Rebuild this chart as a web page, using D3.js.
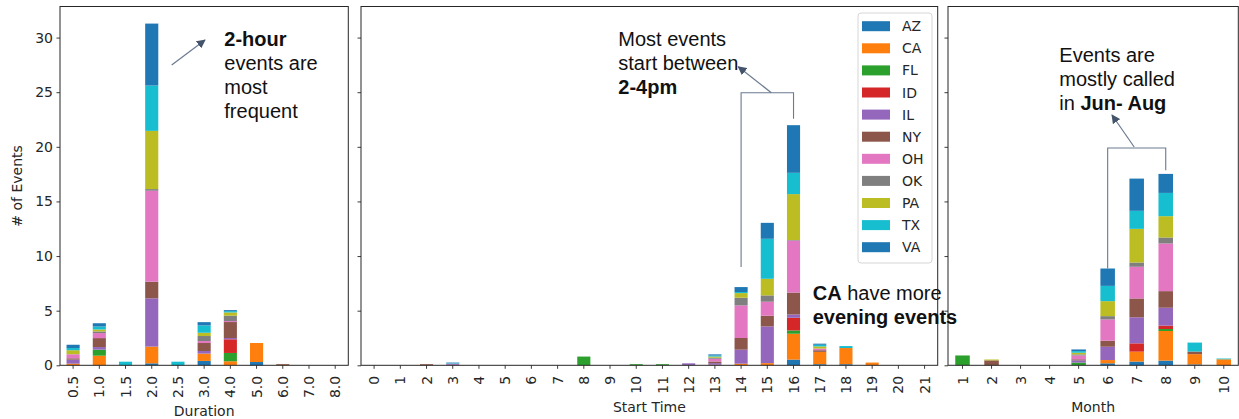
<!DOCTYPE html>
<html><head><meta charset="utf-8">
<script src="https://cdn.jsdelivr.net/npm/d3@7"></script>
<style>body{margin:0;background:#fff} svg{display:block}</style>
</head><body><svg id="c" width="1239" height="419"></svg>
<script>
// ---------- data ----------
const states = ["AZ","CA","FL","ID","IL","NY","OH","OK","PA","TX","VA"];
const stateColors = ["#1f77b4","#ff7f0e","#2ca02c","#d62728","#9467bd","#8c564b","#e377c2","#7f7f7f","#bcbd22","#17becf","#1f77b4"];
const yTicks = [0,5,10,15,20,25,30];

const durationCats = ["0.5","1.0","1.5","2.0","2.5","3.0","4.0","5.0","6.0","7.0","8.0"];
const durAZ = [0,    0,    0,    0.18, 0,    0.40, 0,    0.30, 0,    0, 0];
const durCA = [0.15, 0.88, 0,    1.53, 0,    0.67, 0.37, 1.74, 0.05, 0, 0];
const durFL = [0,    0.55, 0,    0,    0,    0,    0.76, 0,    0,    0, 0];
const durID = [0,    0,    0,    0,    0,    0,    1.25, 0,    0,    0, 0];
const durIL = [0.37, 0.24, 0,    4.42, 0,    0.24, 0.12, 0,    0,    0, 0];
const durNY = [0.12, 0.82, 0,    1.52, 0,    0.73, 1.46, 0,    0.07, 0, 0];
const durOH = [0.37, 0.46, 0,    8.33, 0,    0.18, 0.09, 0,    0,    0, 0];
const durOK = [0,    0.15, 0,    0.15, 0,    0.46, 0.49, 0,    0,    0, 0];
const durPA = [0.37, 0.18, 0,    5.33, 0,    0.30, 0.30, 0,    0,    0, 0];
const durTX = [0.20, 0.27, 0.33, 4.15, 0.33, 0.67, 0.12, 0,    0,    0, 0];
const durVA = [0.30, 0.30, 0,    5.67, 0,    0.30, 0.09, 0,    0,    0, 0];

const startCats = ["0","1","2","3","4","5","6","7","8","9","10","11","12","13","14","15","16","17","18","19","20","21"];
//             0 1 2    3    4 5 6 7 8    9 10   11   12   13   14   15   16   17   18   19   20 21
const stAZ = [0,0,0,   0,   0,0,0,0,0,   0,0,   0,   0,   0,   0,   0,   0.52,0.10,0.10,0,   0,0];
const stCA = [0,0,0,   0,   0,0,0,0,0,   0,0,   0,   0,   0.05,0.15,0.20,2.37,1.13,1.48,0.25,0,0];
const stFL = [0,0,0,   0,   0,0,0,0,0.80,0,0.10,0.10,0,   0,   0,   0,   0.30,0,   0,   0,   0,0];
const stID = [0,0,0,   0,   0,0,0,0,0,   0,0,   0,   0,   0,   0,   0,   1.16,0,   0,   0,   0,0];
const stIL = [0,0,0,   0.10,0,0,0,0,0,   0,0,   0,   0.18,0.15,1.28,3.36,0.30,0,   0,   0,   0,0];
const stNY = [0,0,0.10,0,   0,0,0,0,0,   0,0,   0,   0,   0.15,1.07,0.98,2.01,0.15,0,   0,   0,0];
const stOH = [0,0,0,   0.05,0,0,0,0,0,   0,0,   0,   0,   0.25,2.98,1.28,4.76,0.15,0,   0,   0,0];
const stOK = [0,0,0,   0,   0,0,0,0,0,   0,0,   0,   0,   0.10,0.71,0.58,0.05,0,   0,   0,   0,0];
const stPA = [0,0,0,   0,   0,0,0,0,0,   0,0,   0,   0,   0.10,0.42,1.52,4.20,0.20,0,   0,   0,0];
const stTX = [0,0,0,   0.05,0,0,0,0,0,   0,0,   0,   0,   0.10,0.10,3.66,1.95,0.15,0.18,0,   0,0];
const stVA = [0,0,0,   0.05,0,0,0,0,0,   0,0,   0,   0,   0.10,0.45,1.46,4.36,0.10,0,   0,   0,0];

const monthCats = ["1","2","3","4","5","6","7","8","9","10"];
const moAZ = [0,   0,   0,0,0,   0.18,0.34,0.43,0.08,0];
const moCA = [0,   0,   0,0,0,   0.30,0.91,2.71,0.94,0.55];
const moFL = [0.90,0,   0,0,0.25,0,   0,   0.18,0,   0];
const moID = [0,   0,   0,0,0,   0,   0.76,0.31,0,   0];
const moIL = [0,   0,   0,0,0.20,1.22,2.38,1.64,0,   0];
const moNY = [0,   0.45,0,0,0.10,0.55,1.73,1.52,0.24,0];
const moOH = [0,   0,   0,0,0.35,1.95,2.90,4.36,0,   0];
const moOK = [0,   0,   0,0,0.10,0.30,0.39,0.55,0,   0];
const moPA = [0,   0.08,0,0,0.15,1.37,3.08,1.95,0,   0];
const moTX = [0,   0,   0,0,0.15,1.40,1.65,2.13,0.82,0.07];
const moVA = [0,   0,   0,0,0.15,1.59,2.95,1.74,0,   0];

// ---------- layout ----------
const svg = d3.select("#c");
const yBottom = 365.3, yTop = 6.5;
const panels = [
  {cats: durationCats, series: [durAZ,durCA,durFL,durID,durIL,durNY,durOH,durOK,durPA,durTX,durVA], x0: 60, x1: 348.3, title: "Duration"},
  {cats: startCats, series: [stAZ,stCA,stFL,stID,stIL,stNY,stOH,stOK,stPA,stTX,stVA], x0: 361, x1: 937.7, title: "Start Time"},
  {cats: monthCats, series: [moAZ,moCA,moFL,moID,moIL,moNY,moOH,moOK,moPA,moTX,moVA], x0: 948, x1: 1238.3, title: "Month"}
];
panels.forEach(p => {
  p.rows = p.cats.map((c, i) => {
    const r = {cat: c};
    states.forEach((s, k) => r[s] = p.series[k][i]);
    return r;
  });
  p.stacked = d3.stack().keys(states)(p.rows);
  p.totals = p.rows.map(r => d3.sum(states, s => r[s]));
});
const yMax = d3.max(panels, p => d3.max(p.totals)) * 1.05;
const y = d3.scaleLinear().domain([0, yMax]).range([yBottom, yTop]);

const tickFont = "'DejaVu Sans', sans-serif";
const annFont = "'Liberation Sans', Arial, sans-serif";
const spineColor = "#262626";

panels.forEach((p, pi) => {
  const x = d3.scaleBand().domain(p.cats).range([p.x0, p.x1]).paddingInner(0.5).paddingOuter(0.25);
  p.x = x;
  const g = svg.append("g");
  // bars
  p.stacked.forEach((layer, k) => {
    g.append("g").attr("fill", stateColors[k])
      .selectAll("rect").data(layer.filter(d => d[1] - d[0] > 0)).join("rect")
      .attr("x", d => x(d.data.cat))
      .attr("width", x.bandwidth())
      .attr("y", d => y(d[1]))
      .attr("height", d => y(d[0]) - y(d[1]));
  });
  // y axis
  const ya = d3.axisLeft(y).tickValues(yTicks).tickSize(3.5).tickPadding(3.5);
  if (pi > 0) ya.tickFormat("");
  const yg = g.append("g").attr("transform", `translate(${p.x0},0)`).call(ya);
  yg.select(".domain").remove();
  yg.selectAll(".tick line").attr("stroke", spineColor).attr("stroke-width", 0.9);
  yg.selectAll("text").attr("font-family", tickFont).attr("font-size", 14).attr("fill", "#262626");
  // x axis
  const xa = d3.axisBottom(x).tickSize(3.5);
  const xg = g.append("g").attr("transform", `translate(0,${yBottom})`).call(xa);
  xg.select(".domain").remove();
  xg.selectAll(".tick line").attr("stroke", spineColor).attr("stroke-width", 0.9);
  xg.selectAll("text")
    .attr("font-family", tickFont).attr("font-size", 14).attr("fill", "#262626")
    .attr("text-anchor", "end")
    .attr("y", 0).attr("x", 0).attr("dy", "0.36em")
    .attr("transform", "translate(0,10.5) rotate(-90)");
  let maxLen = 0;
  xg.selectAll("text").each(function(){ maxLen = Math.max(maxLen, this.getComputedTextLength()); });
  // spines
  g.append("rect").attr("x", p.x0).attr("y", yTop).attr("width", p.x1 - p.x0).attr("height", yBottom - yTop)
    .attr("fill", "none").attr("stroke", spineColor).attr("stroke-width", 1);
  // x title
  g.append("text").attr("x", (p.x0 + p.x1) / 2).attr("y", yBottom + 10.5 + maxLen + 18)
    .attr("text-anchor", "middle").attr("font-family", tickFont).attr("font-size", 14).attr("fill", "#262626")
    .text(p.title);
});

// y label
svg.append("text").attr("transform", `translate(22,${(yTop + yBottom) / 2}) rotate(-90)`)
  .attr("text-anchor", "middle").attr("font-family", tickFont).attr("font-size", 14).attr("fill", "#262626")
  .text("# of Events");

// ---------- legend ----------
const mid = panels[1];
const lg = svg.append("g");
const lgRight = mid.x1 - 5.7, lgLeft = lgRight - 74;
lg.append("rect").attr("x", lgLeft).attr("y", 13).attr("width", 74).attr("height", 250).attr("rx", 3)
  .attr("fill", "white").attr("fill-opacity", 0.8).attr("stroke", "#d6d6d6").attr("stroke-width", 1);
states.forEach((s, i) => {
  const cy = 26.2 + i * 22.1;
  lg.append("rect").attr("x", lgLeft + 4).attr("y", cy - 5).attr("width", 28).attr("height", 10).attr("fill", stateColors[i]);
  lg.append("text").attr("x", lgLeft + 44).attr("y", cy).attr("dy", "0.36em")
    .attr("font-family", tickFont).attr("font-size", 14).attr("fill", "#262626").text(s);
});

// ---------- annotations ----------
const defs = svg.append("defs");
defs.append("marker").attr("id", "ah").attr("viewBox", "0 0 10 10").attr("refX", 9).attr("refY", 5)
  .attr("markerWidth", 9).attr("markerHeight", 9).attr("markerUnits", "userSpaceOnUse").attr("orient", "auto")
  .append("path").attr("d", "M0,0 L10,5 L0,10 Z").attr("fill", "#44546a");
const annColor = "#6b7a90";
function arrow(x1, y1, x2, y2) {
  svg.append("line").attr("x1", x1).attr("y1", y1).attr("x2", x2).attr("y2", y2)
    .attr("stroke", annColor).attr("stroke-width", 1.2).attr("marker-end", "url(#ah)");
}
function textBlock(x, y0, lines) {
  const t = svg.append("text").attr("font-family", annFont).attr("font-size", 20).attr("fill", "#111");
  lines.forEach((parts, i) => {
    parts.forEach((pt, j) => {
      const ts = t.append("tspan").text(pt.t).attr("font-weight", pt.b ? "bold" : "normal");
      if (j === 0) ts.attr("x", x).attr("y", y0 + i * 24);
    });
  });
}
function bracket(xa, ya, xb, yb, yTopLine) {
  svg.append("path").attr("d", `M${xa},${ya} V${yTopLine} H${xb} V${yb}`)
    .attr("fill", "none").attr("stroke", annColor).attr("stroke-width", 1.1);
}

// left
arrow(171.7, 65, 205, 40);
textBlock(224.3, 46, [[{t:"2-hour", b:true}], [{t:"events are"}], [{t:"most"}], [{t:"frequent"}]]);

// middle
{
  const xs = mid.x, c14 = xs("14") + xs.bandwidth()/2, c16 = xs("16") + xs.bandwidth()/2;
  const topLine = 92.7;
  bracket(c14, y(mid.totals[14]) - 20, c16, y(mid.totals[16]) - 6.5, topLine);
  arrow((c14 + c16) / 2 + 4, topLine, 738.3, 66.7);
  textBlock(618.3, 46, [[{t:"Most events"}], [{t:"start between"}], [{t:"2-4pm", b:true}]]);
  textBlock(812.7, 300, [[{t:"CA", b:true}, {t:" have more"}], [{t:"evening events", b:true}]]);
}
// right
{
  const rp = panels[2], xs = rp.x, c6 = xs("6") + xs.bandwidth()/2, c8 = xs("8") + xs.bandwidth()/2;
  const topLine = 148;
  bracket(c6, y(rp.totals[5]), c8, y(rp.totals[7]) - 3.7, topLine);
  arrow((c6 + c8) / 2 - 2.5, topLine - 1, 1112, 115);
  textBlock(1059.3, 61.7, [[{t:"Events are"}], [{t:"mostly called"}], [{t:"in "}, {t:"Jun- Aug", b:true}]]);
}
</script>
</body></html>
